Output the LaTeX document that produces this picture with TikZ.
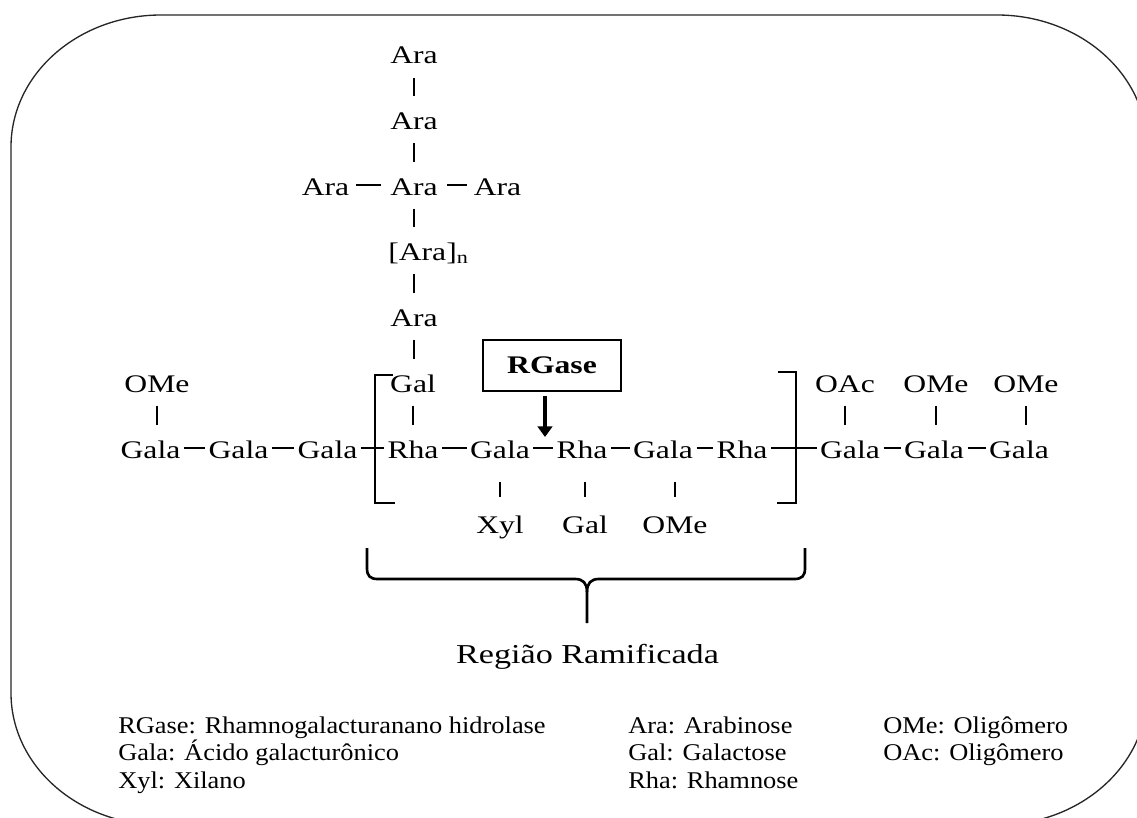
\documentclass[tikz,border=0pt]{standalone}
\usepackage{fontspec}
\setmainfont{Liberation Serif}
\newfontfamily\chainfont[FakeStretch=1.25]{Liberation Serif}
\newfontfamily\legfont[FakeStretch=1.1]{Liberation Serif}
\usetikzlibrary{arrows.meta}

\begin{document}
\begin{tikzpicture}[x=0.75pt,y=-0.75pt,
  chem/.style={font=\chainfont\fontsize{19}{23}\selectfont,inner sep=0pt,
    text height=14.8pt,text depth=0pt,anchor=base},
  bond/.style={line width=1.7pt,shorten <=2.5pt,shorten >=2.5pt},
  vbond/.style={line width=2.2pt,shorten <=10pt,shorten >=10pt},
  bracket/.style={line width=0.8pt},
  rgbox/.style={draw,line width=1.1pt,minimum width=103.5pt,minimum height=38.25pt,
    inner sep=0pt,font=\chainfont\bfseries\fontsize{19}{23}\selectfont},
  cutarrow/.style={line width=2.8pt,-{Triangle[length=8pt,width=11pt]}},
  legend/.style={font=\legfont\fontsize{18}{21}\selectfont,inner sep=0pt,anchor=base west}]
\path[use as bounding box,clip] (0,0) rectangle (1137,817);

% frame
\draw[line width=1pt,black!85] (161,15) -- (997,15)
  .. controls (1079.8,15) and (1147,74.1) .. (1147,147) -- (1147,693)
  .. controls (1147,765.9) and (1079.8,825) .. (997,825) -- (161,825)
  .. controls (78.2,825) and (11,765.9) .. (11,693) -- (11,147)
  .. controls (11,74.1) and (78.2,15) .. cycle;

% arabinan side chain
\node[chem] (ara1) at (414,64) {Ara};
\node[chem] (ara2) at (414,129.5) {Ara};
\node[chem] (araL) at (325.5,195) {Ara};
\node[chem] (araM) at (414,195) {Ara};
\node[chem] (araR) at (497.5,195) {Ara};
\node[chem,anchor=base west] (aran) at (388,260.5) {[Ara]\textsubscript{n}};
\node[chem] (ara5) at (414,326) {Ara};
\node[chem] (galt) at (413,392) {Gal};

% backbone
\node[chem] (ga1) at (150.5,458) {Gala};
\node[chem] (ga2) at (238.5,458) {Gala};
\node[chem] (ga3) at (327.5,458) {Gala};
\node[chem] (rh1) at (413,458) {Rha};
\node[chem] (ga4) at (500,458) {Gala};
\node[chem] (rh2) at (582,458) {Rha};
\node[chem] (ga5) at (663,458) {Gala};
\node[chem] (rh3) at (742,458) {Rha};
\node[chem] (ga6) at (850,458) {Gala};
\node[chem] (ga7) at (934,458) {Gala};
\node[chem] (ga8) at (1019,458) {Gala};

% substituents
\node[chem] (ome1) at (157,392) {OMe};
\node[chem] (oac) at (845,392) {OAc};
\node[chem] (ome2) at (936,392) {OMe};
\node[chem] (ome3) at (1026,392) {OMe};
\node[chem] (xyl) at (500,533) {Xyl};
\node[chem] (galb) at (585,533) {Gal};
\node[chem] (ome4) at (675,533) {OMe};

\draw[vbond] (ara1.south) -- (ara1.south |- ara2.north);
\draw[vbond] (ara2.south) -- (ara2.south |- araM.north);
\draw[bond,shorten <=5pt,shorten >=7pt] (araL.east) -- (araM.west);
\draw[bond,shorten <=7pt,shorten >=5pt] (araM.east) -- (araR.west);
\draw[vbond] (araM.south) -- (araM.south |- aran.north);
\draw[vbond] (ara5.north) -- (ara5.north |- aran.south);
\draw[vbond] (ara5.south) -- (ara5.south |- galt.north);
\draw[vbond] (galt.south) -- (galt.south |- rh1.north);

\draw[bond] (ga1.east) -- (ga2.west);
\draw[bond] (ga2.east) -- (ga3.west);
\draw[bond] (ga3.east) -- (rh1.west);
\draw[bond] (rh1.east) -- (ga4.west);
\draw[bond] (ga4.east) -- (rh2.west);
\draw[bond] (rh2.east) -- (ga5.west);
\draw[bond] (ga5.east) -- (rh3.west);
\draw[bond] (rh3.east) -- (ga6.west);
\draw[bond] (ga6.east) -- (ga7.west);
\draw[bond] (ga7.east) -- (ga8.west);

\draw[vbond] (ome1.south) -- (ome1.south |- ga1.north);
\draw[vbond] (oac.south) -- (oac.south |- ga6.north);
\draw[vbond] (ome2.south) -- (ome2.south |- ga7.north);
\draw[vbond] (ome3.south) -- (ome3.south |- ga8.north);
\draw[vbond,shorten <=18pt,shorten >=12pt] (xyl.north |- ga4.south) -- (xyl.north);
\draw[vbond,shorten <=18pt,shorten >=12pt] (galb.north |- rh2.south) -- (galb.north);
\draw[vbond,shorten <=18pt,shorten >=12pt] (ome4.north |- ga5.south) -- (ome4.north);

% branched region
\draw[bracket] (393,375) -- (375,375) -- (375,503) -- (395,503);
\draw[bracket] (778,372) -- (796,372) -- (796,503) -- (777,503);

\node[rgbox] (rg) at (552,365.5) {RGase};
\coordinate (cut) at (545,437);
\draw[cutarrow,shorten <=3pt] (rg.south -| cut) -- (cut);

\draw[line width=2pt] (367,548) -- (367,568) .. controls (367,576) and (370,579) .. (378,579)
  -- (575,579) .. controls (583,579) and (587,583) .. (587,592) -- (587,623);
\draw[line width=2pt] (805,548) -- (805,568) .. controls (805,576) and (802,579) .. (794,579)
  -- (599,579) .. controls (591,579) and (587,583) .. (587,592);
\node[chem,font=\chainfont\fontsize{20.5}{24}\selectfont] (reg) at (587.5,663) {Região Ramificada};

% legend
\node[legend] (l1) at (118,733) {RGase: Rhamnogalacturanano hidrolase};
\node[legend] (l2) at (118,760.5) {Gala: Ácido galacturônico};
\node[legend] (l3) at (118,788) {Xyl: Xilano};
\node[legend] (l4) at (628,733) {Ara: Arabinose};
\node[legend] (l5) at (628,760.5) {Gal: Galactose};
\node[legend] (l6) at (628,788) {Rha: Rhamnose};
\node[legend] (l7) at (883,733) {OMe: Oligômero};
\node[legend] (l8) at (883,760.5) {OAc: Oligômero};
\end{tikzpicture}
\end{document}
